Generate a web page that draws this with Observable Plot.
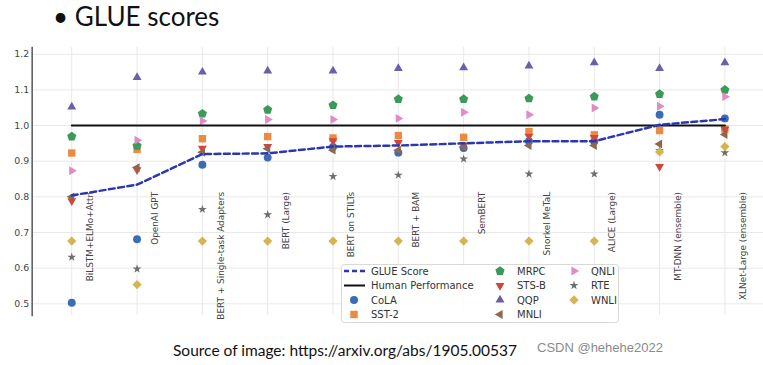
<!DOCTYPE html>
<html><head><meta charset="utf-8">
<script src="https://cdn.jsdelivr.net/npm/d3@7"></script>
<script src="https://cdn.jsdelivr.net/npm/@observablehq/plot@0.6"></script>
<style>
html,body{margin:0;padding:0;background:#fff;overflow:hidden;width:763px;height:365px;}
#title{position:absolute;left:53px;top:0px;font-family:Lato,"Open Sans",sans-serif;font-size:26px;color:#111;white-space:nowrap;}
#chart{position:absolute;left:0;top:40px;}
#legend{position:absolute;left:0;top:0;}
#caption{position:absolute;left:173px;top:341px;font-family:Lato,sans-serif;font-size:15.5px;color:#111;white-space:nowrap;}
#wm{position:absolute;left:537px;top:340px;font-family:"Liberation Sans",Arial,sans-serif;font-size:13px;color:#8a8a8a;white-space:nowrap;}
</style></head>
<body>
<div id="title">• GLUE scores</div>
<div id="chart"></div>
<div id="caption">Source of image: https://arxiv.org/abs/1905.00537</div>
<div id="wm">CSDN @hehehe2022</div>
<script>
const models = ["BiLSTM+ELMo+Attn","OpenAI GPT","BERT + Single-task Adapters","BERT (Large)","BERT on STILTs","BERT + BAM","SemBERT","Snorkel MeTaL","ALICE (Large)","MT-DNN (ensemble)","XLNet-Large (ensemble)"];
const yTicks = [0.5,0.6,0.7,0.8,0.9,1.0,1.1,1.2];
const glue  = [0.804,0.834,0.920,0.922,0.941,0.944,0.950,0.956,0.956,1.002,1.018];
const human = [1.0,1.0,1.0,1.0,1.0,1.0,1.0,1.0,1.0,1.0,1.0];
const cola  = [0.503,0.681,0.890,0.910,0.940,0.924,0.937,0.956,0.955,1.030,1.020];
const sst2  = [0.923,0.933,0.963,0.969,0.965,0.972,0.967,0.983,0.974,0.986,0.990];
const mrpc  = [0.969,0.943,1.033,1.044,1.057,1.074,1.074,1.076,1.081,1.088,1.100];
const stsb  = [0.789,0.876,0.936,0.941,0.957,0.952,0.945,0.970,0.966,0.885,0.989];
const qqp   = [1.052,1.135,1.150,1.153,1.153,1.160,1.162,1.167,1.176,1.160,1.176];
const mnli  = [0.800,0.882,0.925,0.935,0.931,0.931,0.940,0.944,0.944,0.948,0.975];
const qnli  = [0.873,0.959,1.013,1.017,1.017,1.020,1.037,1.030,1.049,1.054,1.081];
const rte   = [0.631,0.598,0.765,0.750,0.857,0.861,0.906,0.864,0.864,0.930,0.924];
const wnli  = [0.676,0.554,0.676,0.676,0.676,0.676,0.676,0.676,0.676,0.926,0.941];

function tri(deg){const a0=deg*Math.PI/180;return {draw(ctx,size){const r=Math.sqrt(size/Math.PI)*1.3;for(let k=0;k<3;k++){const a=a0+k*2*Math.PI/3;const x=r*Math.cos(a),y=r*Math.sin(a);k?ctx.lineTo(x,y):ctx.moveTo(x,y);}ctx.closePath();}};}
const pentagon={draw(ctx,size){const r=Math.sqrt(size/Math.PI)*1.15;for(let k=0;k<5;k++){const a=-Math.PI/2+k*2*Math.PI/5;const x=r*Math.cos(a),y=r*Math.sin(a);k?ctx.lineTo(x,y):ctx.moveTo(x,y);}ctx.closePath();}};

const tasks = [
  {name:"CoLA", values:cola, color:"#3a6db5", symbol:"circle", r:4},
  {name:"SST-2", values:sst2, color:"#ec8a3f", symbol:"square", r:4.2},
  {name:"MRPC", values:mrpc, color:"#3c9a58", symbol:pentagon, r:4.2},
  {name:"STS-B", values:stsb, color:"#d2463b", symbol:tri(90), r:4},
  {name:"QQP", values:qqp, color:"#6b5fa9", symbol:tri(-90), r:4},
  {name:"MNLI", values:mnli, color:"#8c684f", symbol:tri(180), r:4},
  {name:"QNLI", values:qnli, color:"#e08ac6", symbol:tri(0), r:4},
  {name:"RTE", values:rte, color:"#6e6e6e", symbol:"star", r:2.8},
  {name:"WNLI", values:wnli, color:"#d6b452", symbol:"diamond2", r:4.2}
];
const rows = v => models.map((m,i)=>({model:m, value:v[i]}));

const chart = Plot.plot({
  width: 771, height: 290,
  marginLeft: 32, marginRight: 0, marginTop: 7, marginBottom: 12,
  style:{fontFamily:"'DejaVu Sans',sans-serif", fontSize:"9.5px", color:"#444", background:"transparent", overflow:"visible"},
  x:{type:"point", domain:models, padding:0.556, axis:null},
  y:{domain:[0.467,1.219], axis:null},
  marks:[
    Plot.gridX(models, {stroke:"#e8e8e8", strokeOpacity:1, strokeWidth:1}),
    Plot.gridY(yTicks, {stroke:"#e8e8e8", strokeOpacity:1, strokeWidth:1}),
    Plot.axisY(yTicks, {tickSize:0, tickPadding:3, tickFormat:d3.format(".1f"), fill:"#444", fontSize:9.5, label:null}),
    Plot.frame({anchor:"left", stroke:"#555", strokeWidth:1.5}),
    Plot.text(models, {x:d=>d, frameAnchor:"top", dy:146, dx:15, rotate:-90, textAnchor:"end", fontSize:9, fill:"#444"}),
    ...tasks.map(t=>Plot.dot(rows(t.values), {x:"model", y:"value", symbol:t.symbol, fill:t.color, r:t.r, stroke:"none"})),
    Plot.line(rows(human), {x:"model", y:"value", stroke:"#111", strokeWidth:2}),
    Plot.line(rows(glue), {x:"model", y:"value", stroke:"#2b37b2", strokeWidth:2.5, strokeDasharray:"6,3.5"})
  ]
});
document.getElementById("chart").appendChild(chart);

// legend overlay
const lg = d3.select("body").append("svg").attr("id","legend").attr("width",763).attr("height",365)
  .style("position","absolute").style("left","0px").style("top","0px");
lg.append("rect").attr("x",341.5).attr("y",264.5).attr("width",277).attr("height",58).attr("rx",3)
  .attr("fill","rgba(255,255,255,0.88)").attr("stroke","#d8d8d8");
const rowY = [271, 285.5, 300, 314.5];
const txt = (x,y,s)=>lg.append("text").attr("x",x).attr("y",y).attr("dy","0.35em").text(s)
  .attr("font-family","'DejaVu Sans',sans-serif").attr("font-size",10).attr("fill","#333");
lg.append("line").attr("x1",344).attr("x2",365).attr("y1",rowY[0]).attr("y2",rowY[0]).attr("stroke","#2b37b2").attr("stroke-width",2.5).attr("stroke-dasharray","5,3");
txt(371,rowY[0],"GLUE Score");
lg.append("line").attr("x1",344).attr("x2",365).attr("y1",rowY[1]).attr("y2",rowY[1]).attr("stroke","#111").attr("stroke-width",2);
txt(371,rowY[1],"Human Performance");
const symMap = {circle:d3.symbolCircle, square:d3.symbolSquare, star:d3.symbolStar, diamond2:d3.symbolDiamond2};
const legPos = [[354,2],[354,3],[500,0],[500,1],[500,2],[500,3],[574,0],[574,1],[574,2]];
tasks.forEach((t,i)=>{
  const [x,row]=legPos[i];
  const type = typeof t.symbol==="string" ? symMap[t.symbol] : t.symbol;
  lg.append("path").attr("d", d3.symbol(type, t.r*t.r*Math.PI)()).attr("fill",t.color)
    .attr("transform",`translate(${x},${rowY[row]})`);
  txt(x+17,rowY[row],t.name);
});
</script>
</body></html>
